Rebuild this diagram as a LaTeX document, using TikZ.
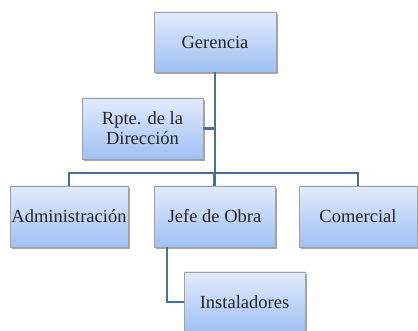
\documentclass[tikz,border=0pt]{standalone}
\usepackage{fontspec}
\setmainfont{Liberation Serif}
\usetikzlibrary{shadows}
\definecolor{boxtop}{HTML}{E2EBFC}
\definecolor{boxbot}{HTML}{A0C0F4}
\definecolor{boxline}{HTML}{A0A0A0}
\definecolor{conn}{HTML}{4A6E9E}
\tikzset{
  orgbox/.style={draw=boxline, line width=0.8pt, top color=boxtop, bottom color=boxbot,
    minimum width=#1, minimum height=61pt, inner sep=0pt, align=center,
    font=\fontsize{18.5}{20}\selectfont, text=black!85,
    drop shadow={shadow xshift=2pt, shadow yshift=-2pt, opacity=0.35, fill=black}},
  orgbox/.default=121pt,
  link/.style={draw=conn, line width=2.8pt}
}
\begin{document}
\begin{tikzpicture}[x=1pt,y=-1pt]
\useasboundingbox (0,0) rectangle (418,331);
\coordinate (bar) at (215,173);
\node[orgbox=122pt, minimum height=60pt] (ger) at (215,42) {Gerencia};
\node[orgbox] (rpte) at (142.5,128.5) {Rpte. de la\\Dirección};
\node[orgbox=118pt] (adm) at (69,216.5) {Administración};
\node[orgbox] (jefe) at (214.5,216.5) {Jefe de Obra};
\node[orgbox=118pt] (com) at (358,216.5) {Comercial};
\node[orgbox, minimum height=60pt] (inst) at (244.5,302) {Instaladores};
\draw[link] (ger.south) -- (ger.south |- bar);
\draw[link] (adm.north) |- (com.north |- bar) -- (com.north);
\draw[link] (jefe.north) -- (jefe.north |- bar);
\draw[link] (rpte.east) -- (rpte.east -| ger.south);
\draw[link] ([xshift=-47.5pt]jefe.south) |- (inst.west);
\end{tikzpicture}
\end{document}
